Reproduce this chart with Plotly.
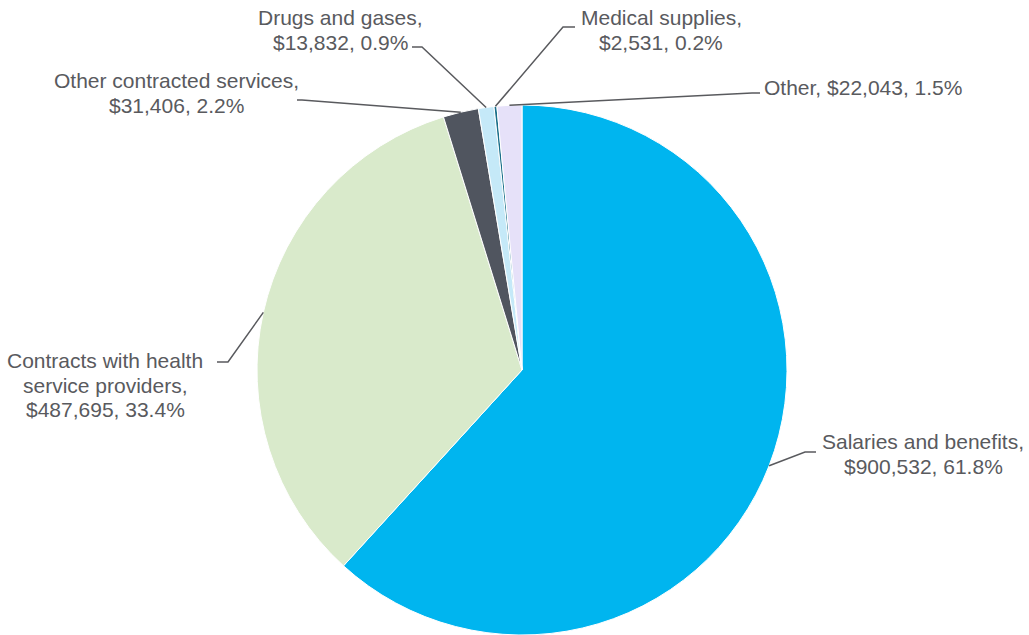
import math
import plotly.graph_objects as go

labels = ["Salaries and benefits", "Contracts with health service providers",
          "Other contracted services", "Drugs and gases", "Medical supplies", "Other"]
values = [900532, 487695, 31406, 13832, 2531, 22043]
label_lines = [
    ["Salaries and benefits,", "$900,532, 61.8%"],
    ["Contracts with health", "service providers,", "$487,695, 33.4%"],
    ["Other contracted services,", "$31,406, 2.2%"],
    ["Drugs and gases,", "$13,832, 0.9%"],
    ["Medical supplies,", "$2,531, 0.2%"],
    ["Other, $22,043, 1.5%"],
]
colors = ["#00B5EF", "#D9EACB", "#50555F", "#C5E9F8", "#1A6F8A", "#E6E1F9"]

W, H = 1029, 635
CX, CY, R = 522, 370, 265

# label block centres (pixel) and leader elbow points (pixel)
label_pos = [(923, 454), (105, 385), (176, 93), (340, 30), (661, 30), (863, 87)]
LINE_GAP = 24.5
elbows = [
    [(805, 452), (816, 452)],
    [(228, 362), (217, 362)],
    [(302, 100), (297, 100)],
    [(422, 47), (412, 47)],
    [(563, 27), (575, 27)],
    [(752, 93), (760, 93)],
]

def px(x, y):
    return x / W, 1 - y / H

fig = go.Figure(go.Pie(
    labels=labels, values=values, sort=False, direction="clockwise", rotation=0,
    marker=dict(colors=colors, line=dict(color="white", width=1)),
    textinfo="none", hoverinfo="label+value+percent",
    domain=dict(x=[(CX - R) / W, (CX + R) / W], y=[1 - (CY + R) / H, 1 - (CY - R) / H]),
    showlegend=False,
))

total = sum(values)
cum = 0
shapes = []
annotations = []
for i, v in enumerate(values):
    mid = (cum + v / 2) / total * 2 * math.pi
    cum += v
    ex = CX + R * math.sin(mid)
    ey = CY - R * math.cos(mid)
    pts = [(ex, ey)] + elbows[i]
    path = ""
    for j, (x, y) in enumerate(pts):
        X, Y = px(x, y)
        path += ("M" if j == 0 else " L") + f" {X} {Y}"
    shapes.append(dict(type="path", path=path, xref="paper", yref="paper",
                       line=dict(color="#595A5E", width=1.5)))
    lines = label_lines[i]
    n = len(lines)
    for k, t in enumerate(lines):
        ly_px = label_pos[i][1] + (k - (n - 1) / 2) * LINE_GAP
        lx, ly = px(label_pos[i][0], ly_px)
        annotations.append(dict(x=lx, y=ly, xref="paper", yref="paper", text=t,
                                showarrow=False, xanchor="center", yanchor="middle",
                                align="center", borderpad=0,
                                font=dict(family="Liberation Sans, Arial, sans-serif",
                                          size=21, color="#595A5E")))

fig.update_layout(width=W, height=H, margin=dict(l=0, r=0, t=0, b=0),
                  paper_bgcolor="white", plot_bgcolor="white",
                  shapes=shapes, annotations=annotations)
fig.write_html("out.html", config={"displayModeBar": False},
               post_script="document.body.style.margin='0';")
